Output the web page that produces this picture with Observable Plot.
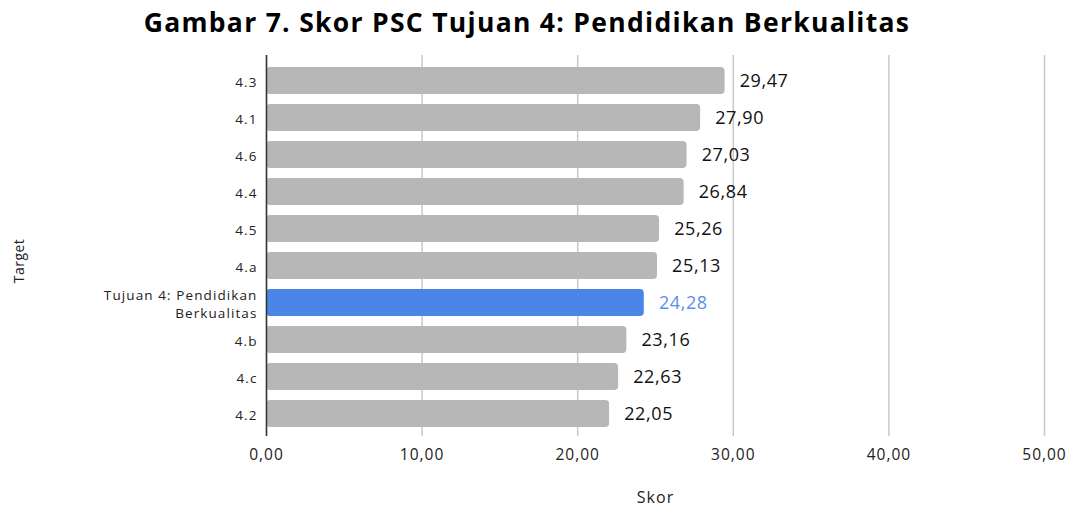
<!DOCTYPE html>
<html>
<head>
<meta charset="utf-8">
<script src="https://cdn.jsdelivr.net/npm/d3@7"></script>
<script src="https://cdn.jsdelivr.net/npm/@observablehq/plot@0.6"></script>
<style>
  body { margin: 0; background: #fff; width: 1081px; height: 507px; overflow: hidden; }
  #title { font-family: "Open Sans", sans-serif; font-weight: 700; font-size: 26.5px; color: #000;
           letter-spacing: 1.3px; text-align: center; width: 1054px; height: 40px; line-height: 44px; white-space: nowrap; }
  #chart svg { display: block; }
</style>
</head>
<body>
<div id="title">Gambar 7. Skor PSC Tujuan 4: Pendidikan Berkualitas</div>
<div id="chart"></div>
<script>
const targets = ["4.3", "4.1", "4.6", "4.4", "4.5", "4.a", "Tujuan 4: Pendidikan\nBerkualitas", "4.b", "4.c", "4.2"];
const scores  = [29.47, 27.90, 27.03, 26.84, 25.26, 25.13, 24.28, 23.16, 22.63, 22.05];
const highlight = "Tujuan 4: Pendidikan\nBerkualitas";
const xTicks = [0, 10, 20, 30, 40, 50];

const data = targets.map((t, i) => ({target: t, score: scores[i], hl: t === highlight}));
const fmt = v => v.toFixed(2).replace(".", ",");

const chart = Plot.plot({
  width: 1081,
  height: 467,
  marginLeft: 266,
  marginRight: 37,
  marginTop: 15,
  marginBottom: 71,
  style: {fontFamily: "Open Sans, sans-serif", background: "#fff"},
  x: {domain: [0, 50], axis: null},
  y: {domain: targets, axis: null, paddingInner: 0.27, paddingOuter: 0.135, insetTop: 7.5, insetBottom: 3.5},
  marks: [
    Plot.gridX(xTicks, {stroke: "#c8c8c8", strokeOpacity: 1, strokeWidth: 1.5}),
    Plot.barX(data, {x: "score", y: "target", fill: d => d.hl ? "#4a86e8" : "#b7b7b7", rx: 4}),
    Plot.ruleX([0], {stroke: "#333", strokeWidth: 1.5}),
    Plot.text(data, {x: "score", y: "target", text: d => fmt(d.score), dx: 39, textAnchor: "middle",
      fill: d => d.hl ? "#5a8fea" : "#111", fontSize: 18}),
    Plot.text(xTicks, {x: d => d, text: fmt, frameAnchor: "bottom", lineAnchor: "middle", dy: 19,
      fontSize: 15.5, fill: "#222"}),
    Plot.text(data, {y: "target", text: "target", frameAnchor: "left", textAnchor: "end", lineAnchor: "middle",
      dx: -9, fontSize: 13.5, lineHeight: 1.4, fill: "#222"}),
    Plot.text(["Skor"], {frameAnchor: "bottom", lineAnchor: "middle", dy: 61, fontSize: 16, fill: "#222"}),
    Plot.text(["Target"], {frameAnchor: "left", textAnchor: "middle", lineAnchor: "middle", dx: -247, dy: 15,
      rotate: -90, fontSize: 14, fill: "#222"})
  ]
});
// letter spacing per text size (the reference's type is slightly wide)
const spacing = {"18": 0.6, "15.5": 1, "13.5": 1.1, "16": 1, "14": 0.5};
d3.select(chart).selectAll("g[font-size]").each(function() {
  const s = spacing[this.getAttribute("font-size")];
  if (s != null) this.setAttribute("letter-spacing", s);
});
document.getElementById("chart").appendChild(chart);
</script>
</body>
</html>
